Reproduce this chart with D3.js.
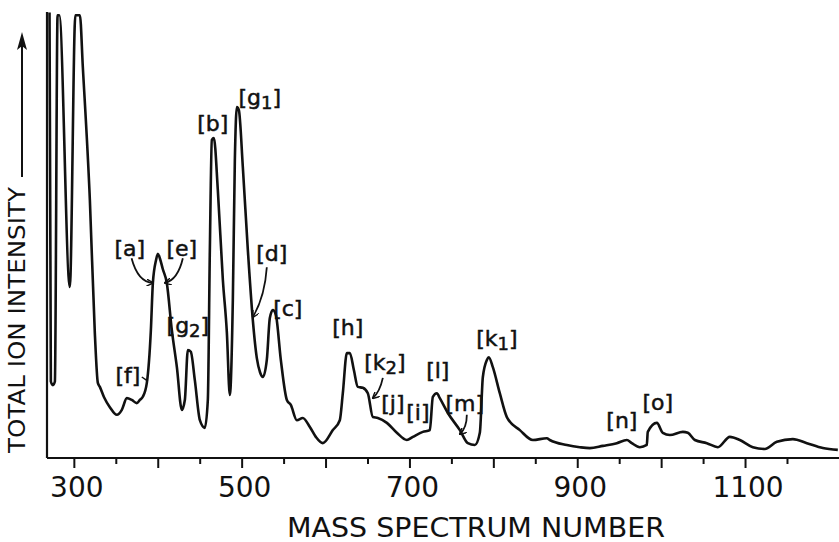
<!DOCTYPE html>
<html>
<head>
<meta charset="utf-8">
<script src="https://cdn.jsdelivr.net/npm/d3@7"></script>
<style>
  body { margin: 0; background: #fff; }
  svg { display: block; }
  text { font-family: "DejaVu Sans", sans-serif; fill: #111; }
</style>
</head>
<body>
<div id="chart"></div>
<script>
// total ion current trace, intensity in arbitrary units (~98 = off scale)
const spectrumNumber = [
  271, 272.6, 275, 277.4, 280.6, 282.6, 295.2, 301.8, 307.2, 310.7,
  319.1, 325, 328.6, 331, 336, 342.9, 351.3, 357.2, 363.2, 369.1,
  375, 378.7, 382.2, 387, 391.8, 394.2, 398, 400.1, 402.5, 406,
  410.8, 416.8, 422.8, 428.7, 432.3, 435.9, 439.4, 444.2, 450.2, 456.1,
  459.7, 462.1, 464.5, 466.9, 471.6, 477.6, 482.4, 485.9, 489.5, 491.9,
  494.3, 496.7, 501.4, 507.4, 513.3, 518.1, 522, 525.3, 530, 533.6,
  537.2, 540.8, 546.7, 553.9, 558.6, 565.8, 572.9, 581.3, 588.4, 596.8,
  608.7, 617, 620.6, 625.4, 629, 633.7, 638.5, 644.4, 650.4, 656.4,
  662.3, 673.1, 685, 696.9, 704.1, 716, 724.3, 727.9, 732.7, 736.2,
  745.8, 760.1, 769.6, 778, 783.9, 787.5, 792.3, 794.6, 799.4, 807.7,
  816.1, 831.6, 847.1, 863.8, 867.3, 887.6, 903.1, 915, 930.5, 947.2,
  959.1, 965, 974.6, 982.9, 984.1, 994.9, 1002, 1010.4, 1025.9, 1031.8,
  1040.2, 1054.5, 1067.6, 1081.9, 1093.8, 1109.3, 1123.6, 1137.9, 1157, 1173.7,
  1192.7, 1210.6
];
const intensity = [
  99, 17, 16.2, 17, 98.4, 98.4, 38, 98.4, 98.4, 86.9,
  57.3, 27.8, 16.7, 15.8, 13.5, 11.3, 9.6, 10.7, 13.3, 12.9,
  12.2, 12.9, 13.6, 16.7, 28.4, 38.9, 44, 45.4, 44.4, 42,
  38.9, 28.4, 20.2, 10.7, 12.9, 24, 23.6, 17.3, 8.4, 6.7,
  12.9, 46.2, 70.7, 71.1, 59.6, 39.6, 27.8, 14, 35.1, 66.2,
  78, 77.3, 64.7, 46.2, 30.7, 22.2, 19, 18, 21.8, 31.1,
  32.9, 31.8, 21.8, 12.9, 11.8, 8.4, 8.9, 6.9, 4.7, 3.3,
  6.2, 8.4, 14.4, 23.3, 23.3, 19.6, 15.8, 15.6, 14.4, 9.1,
  8.9, 7.8, 5.6, 4, 4.7, 5.8, 6.2, 13.6, 14.4, 13.3,
  10, 6.2, 3.3, 2.9, 5.6, 18, 21.8, 22.4, 20.2, 14.4,
  9.1, 6.2, 4, 4.4, 4, 2.9, 2.4, 2.2, 2.7, 3.3,
  4, 3.3, 2.4, 2.9, 5.8, 7.8, 5.6, 5.1, 5.8, 5.6,
  4, 3.3, 2.4, 4.7, 4, 2.4, 2, 3.6, 4.2, 3.3,
  2.2, 1.8
];

const tickValues = d3.range(300, 1151, 50);
const tickLabels = [300, 500, 700, 900, 1100];

// peak labels: letter, subscript, anchor (spectrum number, intensity)
const labelName = ['a', 'e', 'f', 'g', 'b', 'g', 'd', 'c', 'h', 'k', 'j', 'i', 'l', 'm', 'k', 'n', 'o'];
const labelSub  = ['',  '',  '',  '2', '',  '1', '',  '',  '',  '2', '',  '',  '',  '',  '1', '',  ''];
const labelAtX  = [366.7, 428.7, 364.4, 435.9, 465.7, 521.7, 536, 555, 626.6, 670.7, 680.2, 710, 733.8, 766, 804.2, 953.2, 996.1];
const labelAtY  = [46.7, 46.7, 18.4, 29.6, 74.4, 80.2, 45.6, 33.3, 29.1, 21.3, 12.2, 10.2, 19.6, 12.2, 26.7, 8.4, 12.4];

// pointer arrows: start, bend, tip
const arrowFrom = [[368.8, 44.4], [429.9, 44.4], [530, 42.4], [668.3, 17.8], [768.4, 9.6]];
const arrowBend = [[376.3, 39.1], [424, 39.6], [527.6, 35.8], [664.7, 14.7], [768.4, 6.7]];
const arrowTo   = [[394.2, 38.9], [408.5, 38.9], [513.3, 31.3], [656.4, 13.3], [760.1, 5.3]];

const width = 839;
const height = 542;

const svg = d3.select('#chart')
  .append('svg')
  .attr('width', width)
  .attr('height', height);

const x = d3.scaleLinear().domain([268, 1212]).range([47, 839]);
const y = d3.scaleLinear().domain([0, 100]).range([458, 8]);

svg.append('defs').append('marker')
  .attr('id', 'head')
  .attr('viewBox', '0 0 10 10')
  .attr('refX', 9).attr('refY', 5)
  .attr('markerWidth', 7).attr('markerHeight', 7)
  .attr('markerUnits', 'userSpaceOnUse')
  .attr('orient', 'auto')
  .append('path')
  .attr('d', 'M0,0 L10,5 L0,10')
  .attr('fill', 'none')
  .attr('stroke', '#111')
  .attr('stroke-width', 2);

// bottom axis
const xAxis = svg.append('g')
  .attr('transform', `translate(0,${y(0)})`)
  .call(d3.axisBottom(x)
    .tickValues(tickValues)
    .tickSize(0)
    .tickFormat(''));
xAxis.select('.domain').remove();
xAxis.append('line')
  .attr('x1', x(268)).attr('x2', width)
  .attr('stroke', '#111').attr('stroke-width', 2.2);
xAxis.selectAll('.tick line')
  .attr('y2', d => d % 100 === 0 ? 10 : 6)
  .attr('stroke', '#111')
  .attr('stroke-width', 2);

svg.append('g')
  .selectAll('text')
  .data(tickLabels)
  .enter()
  .append('text')
  .attr('x', d => x(d) + 3)
  .attr('y', 497)
  .attr('text-anchor', 'middle')
  .style('font-size', '28px')
  .text(d => d);

svg.append('text')
  .attr('x', 476)
  .attr('y', 537)
  .attr('text-anchor', 'middle')
  .attr('textLength', 378)
  .attr('lengthAdjust', 'spacingAndGlyphs')
  .style('font-size', '26px')
  .text('MASS SPECTRUM NUMBER');

// left axis
svg.append('line')
  .attr('x1', x(268)).attr('x2', x(268))
  .attr('y1', y(0)).attr('y2', 12)
  .attr('stroke', '#111').attr('stroke-width', 2.2);

svg.append('text')
  .attr('transform', 'translate(25,320) rotate(-90)')
  .attr('text-anchor', 'middle')
  .attr('textLength', 266)
  .attr('lengthAdjust', 'spacingAndGlyphs')
  .style('font-size', '23px')
  .text('TOTAL ION INTENSITY');

svg.append('line')
  .attr('x1', 22).attr('x2', 22)
  .attr('y1', 177).attr('y2', 44)
  .attr('stroke', '#111').attr('stroke-width', 2);
svg.append('path')
  .attr('d', 'M22,32 L17,50 L22,46 L27,50 Z')
  .attr('fill', '#111');

// trace
const points = spectrumNumber.map((s, i) => [s, intensity[i]]);
const line = d3.line()
  .x(d => x(d[0]))
  .y(d => y(d[1]))
  .curve(d3.curveMonotoneX);

svg.append('path')
  .datum(points)
  .attr('d', line)
  .attr('fill', 'none')
  .attr('stroke', '#111')
  .attr('stroke-width', 2.6)
  .attr('stroke-linejoin', 'round');

// peak labels
const labels = svg.append('g')
  .selectAll('text')
  .data(labelName)
  .enter()
  .append('text')
  .attr('x', (d, i) => x(labelAtX[i]))
  .attr('y', (d, i) => y(labelAtY[i]) + 8)
  .attr('text-anchor', 'middle')
  .attr('stroke', '#111')
  .attr('stroke-width', 0.5)
  .style('font-size', '22px');
labels.append('tspan').text((d, i) => '[' + d);
labels.append('tspan')
  .attr('dy', (d, i) => labelSub[i] ? 4 : 0)
  .style('font-size', '18px')
  .text((d, i) => labelSub[i]);
labels.append('tspan')
  .attr('dy', (d, i) => labelSub[i] ? -4 : 0)
  .text(']');

// arrows
svg.append('g')
  .selectAll('path')
  .data(arrowFrom)
  .enter()
  .append('path')
  .attr('d', (d, i) => {
    const p = d3.path();
    p.moveTo(x(d[0]), y(d[1]));
    p.quadraticCurveTo(x(arrowBend[i][0]), y(arrowBend[i][1]), x(arrowTo[i][0]), y(arrowTo[i][1]));
    return p.toString();
  })
  .attr('fill', 'none')
  .attr('stroke', '#111')
  .attr('stroke-width', 1.8)
  .attr('marker-end', 'url(#head)');

// small connector from [f] to its shoulder
svg.append('line')
  .attr('x1', x(381)).attr('y1', y(18))
  .attr('x2', x(388.2)).attr('y2', y(17.1))
  .attr('stroke', '#111').attr('stroke-width', 1.5);
</script>
</body>
</html>
